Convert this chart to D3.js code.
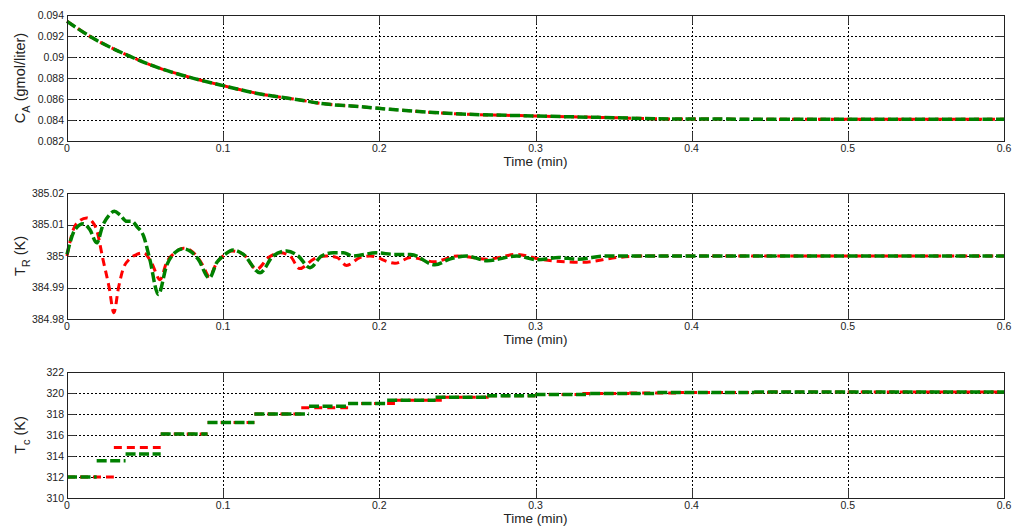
<!DOCTYPE html>
<html>
<head>
<meta charset="utf-8">
<script src="https://cdn.jsdelivr.net/npm/d3@7"></script>
<style>
  body { margin: 0; background: #fff; }
  svg { font-family: "Liberation Sans", Arial, sans-serif; }
</style>
</head>
<body>
<div id="chart"></div>
<script>
// time axis (min)
var xTicks = [0, 0.1, 0.2, 0.3, 0.4, 0.5, 0.6];

// C_A (gmol/liter) - both runs overlap
var caTime = [0, 0.0168, 0.0382, 0.0596, 0.081, 0.1, 0.1236, 0.145, 0.166, 0.1876, 0.2068, 0.243, 0.3008, 0.35, 0.386, 0.45, 0.6];
var caRed = [0.0934, 0.09178, 0.0902, 0.08892, 0.08797, 0.08727, 0.08648, 0.0860, 0.08552, 0.08527, 0.08502, 0.08464, 0.08438, 0.08422, 0.0841, 0.08408, 0.08408];
var caGreen = [0.0934, 0.09178, 0.0902, 0.08892, 0.08797, 0.08727, 0.08648, 0.0860, 0.08552, 0.08527, 0.08502, 0.08464, 0.08438, 0.08422, 0.0841, 0.08408, 0.08408];
var caTicks = [0.082, 0.084, 0.086, 0.088, 0.09, 0.092, 0.094];

// T_R (K)
var trRedTime = [0, 0.004, 0.008, 0.0126, 0.016, 0.019, 0.023, 0.027, 0.030, 0.033, 0.036, 0.040, 0.0446, 0.049, 0.054, 0.0596, 0.0638, 0.069, 0.0745, 0.079, 0.083, 0.087, 0.0911, 0.096, 0.1, 0.1055, 0.113, 0.1215, 0.129, 0.1364, 0.1428, 0.149, 0.158, 0.166, 0.173, 0.179, 0.1876, 0.194, 0.21, 0.22, 0.235, 0.25, 0.269, 0.288, 0.303, 0.33, 0.352, 0.373, 0.4, 0.6];
var trRed = [385.0, 385.0083, 385.0112, 385.0121, 385.011, 385.0083, 384.999, 384.990, 384.982, 384.990, 384.996, 384.999, 385.0005, 385.001, 384.998, 384.9925, 384.998, 385.001, 385.0025, 385.0018, 385.0, 384.997, 384.9935, 384.998, 385.0, 385.0016, 385.0005, 384.9958, 384.9995, 385.001, 385.0, 384.996, 384.999, 385.0, 384.9995, 384.997, 384.9995, 385.0, 384.9977, 384.9995, 384.9982, 385.0, 384.999, 385.0005, 384.999, 384.998, 384.9995, 385.0, 385.0, 385.0];
var trGreenTime = [0, 0.005, 0.0105, 0.0147, 0.019, 0.023, 0.027, 0.0303, 0.034, 0.0382, 0.0414, 0.045, 0.049, 0.053, 0.0585, 0.0638, 0.069, 0.0745, 0.079, 0.084, 0.0911, 0.096, 0.1, 0.1065, 0.113, 0.1236, 0.132, 0.1407, 0.148, 0.1556, 0.163, 0.1705, 0.177, 0.183, 0.198, 0.21, 0.22, 0.2356, 0.245, 0.256, 0.269, 0.288, 0.301, 0.315, 0.327, 0.345, 0.6];
var trGreen = [385.0005, 385.0083, 385.0102, 385.0083, 385.0042, 385.0098, 385.013, 385.0142, 385.013, 385.011, 385.011, 385.0092, 385.0064, 384.999, 384.9878, 384.997, 385.001, 385.0023, 385.0015, 384.999, 384.993, 384.998, 385.0, 385.0019, 385.0005, 384.9947, 385.0, 385.0016, 385.0, 384.9963, 385.0, 385.001, 385.001, 385.0, 385.001, 385.0005, 385.0005, 384.9972, 384.999, 385.0, 384.9985, 385.0, 384.9988, 384.9995, 384.999, 385.0, 385.0];
var trTicks = [384.98, 384.99, 385, 385.01, 385.02];

// T_c (K) - piecewise constant, each level holds until the next time
var tcRedTime = [0, 0.03, 0.06, 0.09, 0.12, 0.15, 0.18, 0.21, 0.24, 0.27, 0.30, 0.33, 0.36, 0.39, 0.45, 0.6];
var tcRed = [312.0, 314.8, 316.1, 317.2, 318.0, 318.6, 319.0, 319.3, 319.6, 319.75, 319.85, 319.95, 320.0, 320.05, 320.1, 320.1];
var tcGreenTime = [0, 0.019, 0.0375, 0.06, 0.09, 0.12, 0.155, 0.18, 0.205, 0.236, 0.269, 0.30, 0.335, 0.378, 0.44, 0.6];
var tcGreen = [312.0, 313.55, 314.2, 316.1, 317.2, 318.0, 318.75, 319.0, 319.3, 319.6, 319.75, 319.85, 319.95, 320.05, 320.1, 320.1];
var tcTicks = [310, 312, 314, 316, 318, 320, 322];

var W = 1014, H = 529;
var left = 67, right = 1004, ph = 126;

var svg = d3.select("#chart").append("svg").attr("width", W).attr("height", H);

var x = d3.scaleLinear().domain([0, 0.6]).range([left, right]);

function zip(ts, vs) {
  return ts.map(function(t, i) { return [t, vs[i]]; });
}

var panels = [
  { top: 15, domain: [0.082, 0.094], ticks: caTicks, fmt: function(d) { return String(+d.toFixed(3)); },
    label: ["C", "A", " (gmol/liter)"], steps: false,
    red: zip(caTime, caRed), green: zip(caTime, caGreen) },
  { top: 193, domain: [384.98, 385.02], ticks: trTicks, fmt: function(d) { return String(+d.toFixed(2)); },
    label: ["T", "R", " (K)"], steps: false,
    red: zip(trRedTime, trRed), green: zip(trGreenTime, trGreen) },
  { top: 372, domain: [310, 322], ticks: tcTicks, fmt: function(d) { return String(d); },
    label: ["T", "c", " (K)"], steps: true,
    red: zip(tcRedTime, tcRed), green: zip(tcGreenTime, tcGreen) }
];

panels.forEach(function(p) {
  var y = d3.scaleLinear().domain(p.domain).range([p.top + ph, p.top]);
  var g = svg.append("g");

  // grid
  g.selectAll(".gy").data(p.ticks).enter().append("line")
    .attr("x1", left).attr("x2", right)
    .attr("y1", function(d) { return Math.round(y(d)) + 0.5; })
    .attr("y2", function(d) { return Math.round(y(d)) + 0.5; })
    .attr("stroke", "#000").attr("stroke-width", 1).attr("stroke-dasharray", "2,2");
  g.selectAll(".gx").data(xTicks).enter().append("line")
    .attr("y1", p.top).attr("y2", p.top + ph)
    .attr("x1", function(d) { return Math.round(x(d)) + 0.5; })
    .attr("x2", function(d) { return Math.round(x(d)) + 0.5; })
    .attr("stroke", "#000").attr("stroke-width", 1).attr("stroke-dasharray", "2,2");

  // tick marks (inside, all four sides)
  p.ticks.forEach(function(d) {
    var yy = Math.round(y(d)) + 0.5;
    g.append("line").attr("x1", left).attr("x2", left + 9).attr("y1", yy).attr("y2", yy).attr("stroke", "#333");
    g.append("line").attr("x1", right - 9).attr("x2", right).attr("y1", yy).attr("y2", yy).attr("stroke", "#333");
  });
  xTicks.forEach(function(d) {
    var xx = Math.round(x(d)) + 0.5;
    g.append("line").attr("x1", xx).attr("x2", xx).attr("y1", p.top + ph - 9).attr("y2", p.top + ph).attr("stroke", "#333");
    g.append("line").attr("x1", xx).attr("x2", xx).attr("y1", p.top).attr("y2", p.top + 9).attr("stroke", "#333");
  });

  // series
  var line = d3.line().x(function(d) { return x(d[0]); }).y(function(d) { return y(d[1]); }).curve(d3.curveMonotoneX);
  function drawSeries(pts, color, width, dash) {
    if (p.steps) {
      // levels only, no vertical risers
      var segs = pts.slice(0, -1).map(function(d, i) { return [d, [pts[i + 1][0], d[1]]]; });
      g.append("g").selectAll("path").data(segs).enter().append("path")
        .attr("d", function(s) { return d3.line().x(function(d) { return x(d[0]); }).y(function(d) { return y(d[1]); })(s); })
        .attr("fill", "none").attr("stroke", color).attr("stroke-width", width).attr("stroke-dasharray", dash);
    } else {
      g.append("path").attr("d", line(pts)).attr("fill", "none")
        .attr("stroke", color).attr("stroke-width", width).attr("stroke-dasharray", dash);
    }
  }
  drawSeries(p.red, "#ff0000", 3, "8,5");
  drawSeries(p.green, "#008000", 3.5, "10,3.5");

  // frame
  g.append("rect").attr("x", left + 0.5).attr("y", p.top + 0.5)
    .attr("width", right - left).attr("height", ph)
    .attr("fill", "none").attr("stroke", "#222").attr("stroke-width", 1);

  // tick labels
  g.selectAll(".ty").data(p.ticks).enter().append("text")
    .attr("x", left - 3).attr("y", function(d) { return y(d); })
    .attr("dy", "0.35em").attr("text-anchor", "end")
    .attr("font-size", 10.5).attr("fill", "#222")
    .text(p.fmt);
  g.selectAll(".tx").data(xTicks).enter().append("text")
    .attr("x", function(d) { return x(d); }).attr("y", p.top + ph + 11)
    .attr("text-anchor", "middle").attr("font-size", 10.5).attr("fill", "#222")
    .text(function(d) { return String(d); });

  // axis labels
  g.append("text").attr("x", (left + right) / 2).attr("y", p.top + ph + 25)
    .attr("text-anchor", "middle").attr("font-size", 13.5).attr("fill", "#222")
    .text("Time (min)");

  var yl = g.append("text")
    .attr("transform", "translate(25," + (p.top + ph / 2) + ") rotate(-90)")
    .attr("text-anchor", "middle").attr("font-size", 14.5).attr("fill", "#222");
  yl.append("tspan").text(p.label[0]);
  yl.append("tspan").attr("dy", 5).attr("font-size", 11).text(p.label[1]);
  yl.append("tspan").attr("dy", -5).text(p.label[2]);
});
</script>
</body>
</html>
